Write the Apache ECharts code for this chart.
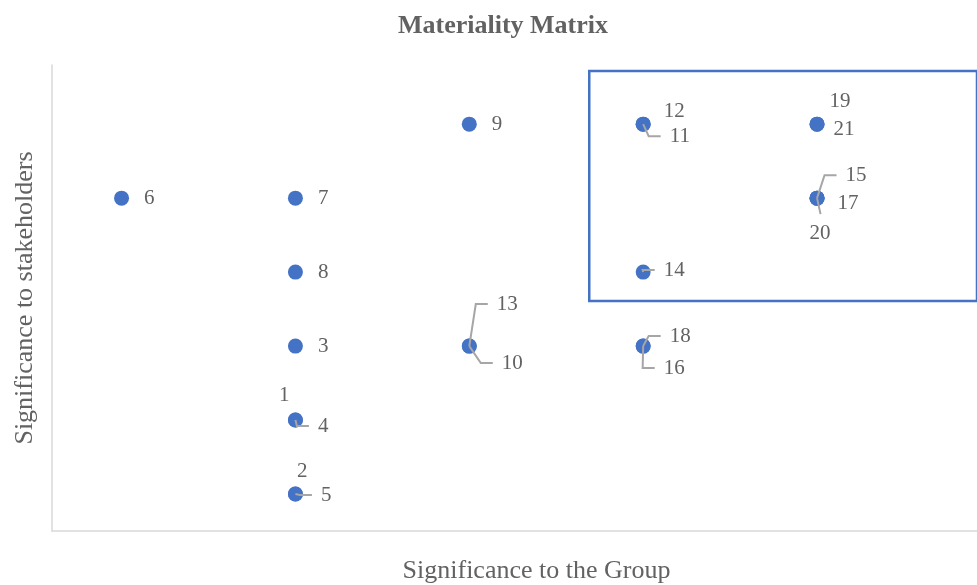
<!DOCTYPE html>
<html>
<head>
<meta charset="utf-8">
<title>Materiality Matrix</title>
<script src="https://cdn.jsdelivr.net/npm/echarts@6/dist/echarts.min.js"></script>
<style>
  html, body { margin: 0; padding: 0; background: #fff; }
  #matrix { width: 977px; height: 585px; }
</style>
</head>
<body>
<div id="matrix"></div>
<script>
// topic numbers with their scores
const topics = ['1', '2', '3', '4', '5', '6', '7', '8', '9', '10', '11',
  '12', '13', '14', '15', '16', '17', '18', '19', '20', '21'];
const groupScore = [2, 2, 2, 2, 2, 1, 2, 2, 3, 3, 4, 4, 3, 4, 5, 4, 5, 4, 5, 5, 5];
const stakeholderScore = [2, 1, 3, 2, 1, 5, 5, 4, 6, 3, 6, 6, 3, 4, 5, 3, 5, 3, 6, 5, 6];
// corners of the highlighted box (axis units)
const focusBox = [[3.69, 6.72], [6, 3.61]];

// where overlapping labels get moved to (px from the default "right" spot)
const labelShift = {
  '1': [-39, -25], '2': [-21, -23], '4': [0, 6], '5': [3, 1],
  '10': [10, 17], '11': [4, 12], '12': [-2, -13], '13': [5, -42],
  '14': [-2, -2], '15': [6, -23], '16': [-2, 22], '17': [-2, 5],
  '18': [4, -10], '19': [-10, -23], '20': [-30, 35], '21': [-6, 5]
};
// labels that get a leader line, 'side' = elbow into the label's left, 'top' = down to label top
const leaders = { '4': 'side', '5': 'side', '10': 'side', '11': 'side', '13': 'side',
  '14': 'side', '15': 'side', '16': 'side', '18': 'side', '20': 'top' };

const font = 'Liberation Serif';
const grey = '#626262';
const dotSize = 15;
const labelGap = 22.5; // dot centre to label's left edge

let chart = echarts.init(document.getElementById('matrix'));

const points = topics.map((t, i) => ({ name: t, value: [groupScore[i], stakeholderScore[i]] }));
const leaderData = [];
topics.forEach((t, i) => {
  if (leaders[t]) leaderData.push([groupScore[i], stakeholderScore[i], i]);
});

function drawLeader(params, api) {
  const c = api.coord([api.value(0), api.value(1)]);
  const t = topics[api.value(2)];
  const s = labelShift[t];
  const left = c[0] + labelGap + s[0];
  const mid = c[1] + s[1];
  let pts;
  if (leaders[t] === 'top') {
    pts = [c, [left + 11, mid - 19]];
  } else {
    pts = [c, [left - 21, mid], [left - 9, mid]];
  }
  return {
    type: 'polyline',
    shape: { points: pts },
    style: { stroke: '#A6A6A6', lineWidth: 2, fill: null }
  };
}

let option = {
  animation: false,
  title: {
    text: 'Materiality Matrix',
    left: 498,
    textAlign: 'center',
    top: 8,
    textStyle: { fontFamily: font, fontSize: 26, fontWeight: 'bold', color: grey }
  },
  grid: { left: 52, right: 0, top: 65, bottom: 54, containLabel: false, outerBoundsMode: 'none' },
  xAxis: {
    type: 'value',
    min: 0.6,
    max: 5.92,
    name: 'Significance to the Group',
    nameLocation: 'middle',
    nameGap: 27,
    nameTextStyle: { fontFamily: font, fontSize: 26, color: grey, padding: [0, 0, 0, 44] },
    axisLine: { show: true, onZero: false, lineStyle: { color: '#D9D9D9', width: 1.5 } },
    axisTick: { show: false },
    axisLabel: { show: false },
    splitLine: { show: false }
  },
  yAxis: {
    type: 'value',
    min: 0.5,
    max: 6.8,
    name: 'Significance to stakeholders',
    nameLocation: 'middle',
    nameGap: 14,
    nameTextStyle: { fontFamily: font, fontSize: 26, color: grey },
    axisLine: { show: true, onZero: false, lineStyle: { color: '#D9D9D9', width: 1.5 } },
    axisTick: { show: false },
    axisLabel: { show: false },
    splitLine: { show: false }
  },
  series: [
    {
      type: 'scatter',
      symbolSize: dotSize,
      itemStyle: { color: '#4472C4', opacity: 1 },
      data: points,
      label: {
        show: true,
        formatter: '{b}',
        position: 'right',
        distance: labelGap - dotSize / 2,
        fontFamily: font,
        fontSize: 21,
        color: grey
      },
      labelLayout: function (p) {
        const s = labelShift[topics[p.dataIndex]] || [0, 0];
        return { dx: s[0], dy: s[1] };
      },
      markArea: {
        silent: true,
        label: { show: false },
        itemStyle: { color: 'rgba(0,0,0,0)', borderColor: '#4472C4', borderWidth: 2.5 },
        data: [[{ coord: focusBox[0] }, { coord: focusBox[1] }]]
      }
    },
    {
      type: 'custom',
      z: 3,
      silent: true,
      clip: false,
      renderItem: drawLeader,
      encode: { x: 0, y: 1 },
      data: leaderData
    }
  ]
};

chart.setOption(option);
</script>
</body>
</html>
